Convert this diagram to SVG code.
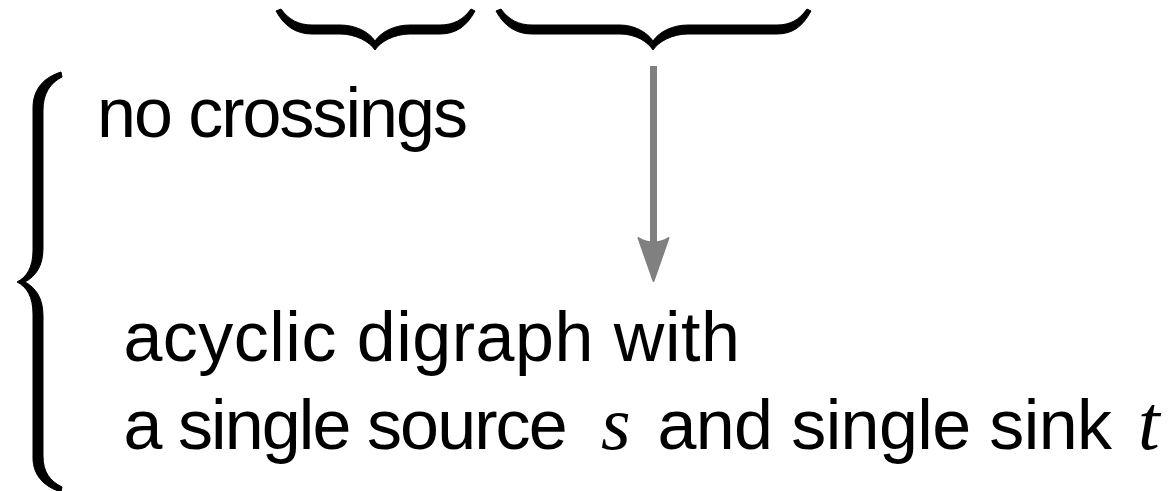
<svg xmlns="http://www.w3.org/2000/svg" width="1174" height="491" viewBox="0 0 1174 491">
  <style>
    .brace { fill: #000; stroke: #000; stroke-width: 1; stroke-linejoin: round; }
    .txt { font-family: "Liberation Sans", Arial, sans-serif; font-size: 70px; fill: #000; }
    .math { font-family: "Liberation Serif", "Times New Roman", serif; font-style: italic; fill: #000; }
    .arrow-shaft { stroke: #808080; stroke-width: 7; fill: none; }
    .arrow-head { fill: #808080; stroke: #808080; stroke-width: 2; stroke-linejoin: round; }
  </style>

  <g id="underbrace-left">
    <path class="brace" d="M 276,11 C 284,26 296,34 312,34 L 340,34 C 356,34 370,42 375,50 C 380,42 394,34 410,34 L 440,34 C 456,34 467,26 475,11 L 471,9 C 463,20 453,25 440,25 L 410,25 C 394,25 381,32 375,41 C 369,32 356,25 340,25 L 312,25 C 299,25 289,20 281,9 Z"/>
  </g>

  <g id="underbrace-right">
    <path class="brace" d="M 496,11 C 504,26 516,34 532,34 L 620,34 C 636,34 648,42 653,50 C 658,42 672,34 688,34 L 777,34 C 793,34 803,26 811,11 L 807,9 C 799,20 790,25 777,25 L 688,25 C 672,25 659,32 653,41 C 647,32 634,25 620,25 L 532,25 C 519,25 509,20 501,9 Z"/>
  </g>

  <g id="left-brace">
    <path class="brace" d="M 61,72 C 45,77 33,88 33,108 L 33,250 C 33,267 27,277 17,282 C 27,287 33,297 33,314 L 33,458 C 33,476 45,487 61,492 L 62,487 C 50,481 43,472 43,456 L 43,316 C 43,298 36,288 25,282 C 36,276 43,266 43,248 L 43,110 C 43,94 50,83 62,77 Z"/>
  </g>

  <g id="connectors">
    <line class="arrow-shaft" x1="653.5" y1="66" x2="653.5" y2="250"/>
    <path class="arrow-head" d="M 653.5,281 L 638.5,238 Q 653.5,247 668.5,238 Z"/>
  </g>

  <g id="label-no-crossings">
    <text class="txt" x="97" y="137" letter-spacing="-2">no crossings</text>
  </g>

  <g id="label-acyclic">
    <text class="txt" x="123.4" y="361" letter-spacing="0.5">acyclic digraph with</text>
    <text y="449">
      <tspan class="txt" x="123.4" letter-spacing="-1.9">a single source</tspan>
      <tspan class="math" x="601" font-size="76">s</tspan>
      <tspan class="txt" x="657.4" letter-spacing="-0.6">and single sink</tspan>
      <tspan class="math" x="1138" font-size="78">t</tspan>
    </text>
  </g>
</svg>
